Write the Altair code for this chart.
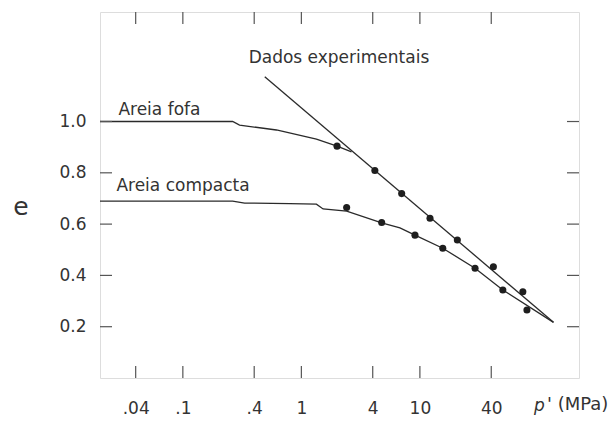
import altair as alt
import pandas as pd

# ---- data ----
x_ticks = [0.04, 0.1, 0.4, 1, 4, 10, 40]
x_tick_labels = [".04", ".1", ".4", "1", "4", "10", "40"]
y_ticks = [0.2, 0.4, 0.6, 0.8, 1.0]

loose_curve_p = [0.02, 0.263, 0.301, 0.616, 1.34, 2.0, 2.65]
loose_curve_e = [1.0, 1.0, 0.986, 0.967, 0.931, 0.904, 0.882]

dense_curve_p = [0.02, 0.263, 0.332, 0.798, 1.34, 1.525, 2.41, 4.76, 6.79, 9.09, 15.6, 29.2, 50.1, 134]
dense_curve_e = [0.69, 0.69, 0.682, 0.680, 0.678, 0.659, 0.651, 0.605, 0.585, 0.557, 0.506, 0.428, 0.343, 0.217]

trend_p = [0.491, 134]
trend_e = [1.175, 0.217]

loose_pts_p = [2.0, 4.17, 7.02, 12.17, 20.7, 41.7, 73.9]
loose_pts_e = [0.904, 0.809, 0.719, 0.623, 0.538, 0.434, 0.336]
dense_pts_p = [2.41, 4.76, 9.09, 15.6, 29.2, 50.1, 80.0]
dense_pts_e = [0.665, 0.606, 0.557, 0.506, 0.428, 0.343, 0.265]

label_texts = ["Dados experimentais", "Areia fofa", "Areia compacta"]
label_p = [0.359, 0.0286, 0.0275]
label_e = [1.248, 1.045, 0.747]

# ---- tables ----
rows = []
for name, ps, es in [("fofa", loose_curve_p, loose_curve_e),
                     ("compacta", dense_curve_p, dense_curve_e),
                     ("dados", trend_p, trend_e)]:
    for i, (p, e) in enumerate(zip(ps, es)):
        rows.append({"serie": name, "i": i, "p": p, "e": e})
lines_df = pd.DataFrame(rows)

pts_df = pd.DataFrame({
    "p": loose_pts_p + dense_pts_p,
    "e": loose_pts_e + dense_pts_e,
})
lab_df = pd.DataFrame({"t": label_texts, "p": label_p, "e": label_e})
xt_df = pd.DataFrame({"p": x_ticks})
yt_df = pd.DataFrame({"e": y_ticks})

FONT = "DejaVu Sans"
INK = "#333333"
TICK = "#555555"
W, H, TL = 479, 366, 12

xscale = alt.Scale(type="log", domain=[0.02, 220], nice=False)
yscale = alt.Scale(domain=[0, 1.427], nice=False, zero=False)

label_expr = " : ".join(
    f"abs(datum.value - {v}) < 1e-9 ? '{l}'" for v, l in zip(x_ticks, x_tick_labels)
) + " : ''"

x_bottom = alt.Axis(orient="bottom", values=x_ticks, labelExpr=label_expr, title=None,
                    grid=False, domain=False, ticks=False,
                    labelPadding=22, labelFont=FONT, labelFontSize=17, labelColor=INK)
y_left = alt.Axis(orient="left", values=y_ticks, format=".1f", title=None,
                  grid=False, domain=False, ticks=False,
                  labelPadding=14, labelFont=FONT, labelFontSize=17, labelColor=INK)

X = alt.X("p:Q", scale=xscale, axis=x_bottom, title=None)
Y = alt.Y("e:Q", scale=yscale, axis=y_left, title=None)

lines = alt.Chart(lines_df).mark_line(color="#2a2a2a", strokeWidth=1.3).encode(
    x=X, y=Y, detail="serie:N", order="i:Q",
)

points = alt.Chart(pts_df).mark_point(shape="circle", filled=True, size=50,
                                      color="#1e1e1e", opacity=1).encode(x=X, y=Y)

# inward tick marks on all four sides
xt_bottom = alt.Chart(xt_df).mark_rule(color=TICK, strokeWidth=1.2).encode(
    x=X, y=alt.value(H - TL), y2=alt.value(H))
xt_top = alt.Chart(xt_df).mark_rule(color=TICK, strokeWidth=1.2).encode(
    x=X, y=alt.value(0), y2=alt.value(TL))
yt_left = alt.Chart(yt_df).mark_rule(color=TICK, strokeWidth=1.2).encode(
    y=Y, x=alt.value(0), x2=alt.value(TL))
yt_right = alt.Chart(yt_df).mark_rule(color=TICK, strokeWidth=1.2).encode(
    y=Y, x=alt.value(W - TL), x2=alt.value(W))

labels = alt.Chart(lab_df).mark_text(align="left", baseline="middle", font=FONT,
                                     fontSize=17, color=INK).encode(
    x=X, y=Y, text="t:N",
)

e_title = alt.Chart(pd.DataFrame({"t": ["e"]})).mark_text(
    font=FONT, fontSize=25, color=INK, align="center", baseline="middle"
).encode(x=alt.value(-79), y=alt.value(195), text="t:N")

p_title = alt.Chart(pd.DataFrame({"t": ["p"]})).mark_text(
    font=FONT, fontSize=17, fontStyle="italic", color=INK, align="left", baseline="middle"
).encode(x=alt.value(434), y=alt.value(394), text="t:N")

unit_title = alt.Chart(pd.DataFrame({"t": ["' (MPa)"]})).mark_text(
    font=FONT, fontSize=18, color=INK, align="left", baseline="middle"
).encode(x=alt.value(447), y=alt.value(393), text="t:N")

chart = alt.layer(lines, points, xt_bottom, xt_top, yt_left, yt_right,
                  labels, e_title, p_title, unit_title).properties(
    width=W, height=H,
    autosize=alt.AutoSizeParams(type="none"),
    padding={"left": 100, "top": 12, "right": 34, "bottom": 43},
).configure_view(stroke="#555555", strokeWidth=1.3).configure(background="white")

chart.save("out.html", embed_options={"renderer": "svg", "actions": False})
